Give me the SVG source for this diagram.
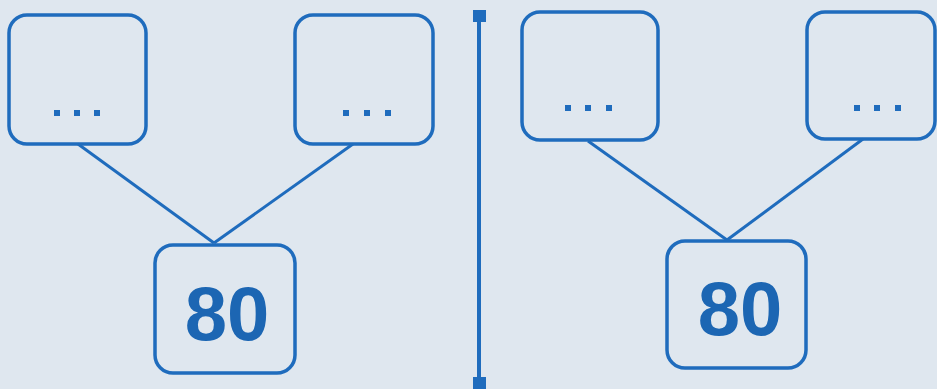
<svg xmlns="http://www.w3.org/2000/svg" width="937" height="389" viewBox="0 0 937 389">
<style>
.box{fill:none;stroke:#1f6cbd;stroke-width:3.5}
.ln{stroke:#1f6cbd;stroke-width:3;fill:none}
.dot{fill:#1f6cbd}
.num{font-family:"Liberation Sans",Arial,sans-serif;font-weight:bold;font-size:76px;fill:#1c66b3;text-anchor:middle}
</style>
<rect width="937" height="389" fill="#dfe7ef"/>
<g id="connectors">
<line class="ln" x1="78" y1="144" x2="214" y2="243"/>
<line class="ln" x1="353" y1="144" x2="214" y2="243"/>
<line class="ln" x1="588" y1="141" x2="727" y2="240"/>
<line class="ln" x1="863" y1="139" x2="727" y2="240"/>
</g>
<g id="box-tl1"><rect class="box" x="9" y="15" width="137" height="129" rx="18"/>
<rect class="dot" x="54" y="110" width="6" height="6"/><rect class="dot" x="74" y="110" width="6" height="6"/><rect class="dot" x="94" y="110" width="6" height="6"/></g>
<g id="box-tl2"><rect class="box" x="295" y="15" width="138" height="129" rx="18"/>
<rect class="dot" x="343" y="110" width="6" height="6"/><rect class="dot" x="364" y="110" width="6" height="6"/><rect class="dot" x="385" y="110" width="6" height="6"/></g>
<g id="box-bl"><rect class="box" x="155" y="245" width="140" height="128" rx="18"/>
<text class="num" x="227" y="340">80</text></g>
<g id="divider">
<line class="ln" x1="479" y1="16" x2="479" y2="383" style="stroke-width:4"/>
<rect class="dot" x="473" y="10" width="13" height="12"/>
<rect class="dot" x="473" y="377" width="13" height="12"/>
</g>
<g id="box-tr1"><rect class="box" x="522" y="12" width="136" height="128" rx="18"/>
<rect class="dot" x="565" y="105" width="6" height="6"/><rect class="dot" x="585" y="105" width="6" height="6"/><rect class="dot" x="606" y="105" width="6" height="6"/></g>
<g id="box-tr2"><rect class="box" x="807" y="12" width="128" height="127" rx="18"/>
<rect class="dot" x="854" y="105" width="6" height="6"/><rect class="dot" x="874" y="105" width="6" height="6"/><rect class="dot" x="895" y="105" width="6" height="6"/></g>
<g id="box-br"><rect class="box" x="667" y="241" width="139" height="127" rx="18"/>
<text class="num" x="740" y="335">80</text></g>
</svg>
